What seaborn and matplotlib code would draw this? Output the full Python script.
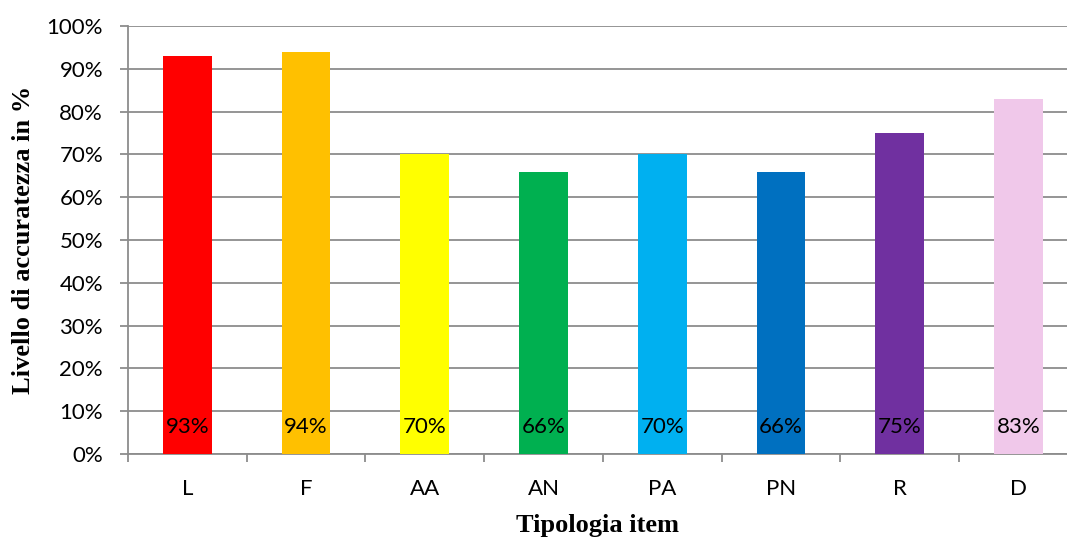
import numpy as np
import pandas as pd
import seaborn as sns
import matplotlib.pyplot as plt
from matplotlib.ticker import PercentFormatter, FixedLocator

# Data
categories = ['L', 'F', 'AA', 'AN', 'PA', 'PN', 'R', 'D']
accuracy = [0.93, 0.94, 0.70, 0.66, 0.70, 0.66, 0.75, 0.83]
bar_colors = ['#FF0000', '#FFC000', '#FFFF00', '#00B050',
              '#00B0F0', '#0070C0', '#7030A0', '#F0C8EA']

data = pd.DataFrame({'item': categories, 'acc': accuracy})

sns.set_style('white')
plt.rcParams['font.family'] = ['Lato', 'DejaVu Sans']
plt.rcParams['text.color'] = 'black'
plt.rcParams['axes.labelcolor'] = 'black'
plt.rcParams['xtick.labelcolor'] = 'black'
plt.rcParams['ytick.labelcolor'] = 'black'

fig = plt.figure(figsize=(10.67, 5.41), dpi=100)
ax = fig.add_axes([0.12, 0.1608, 0.88, 0.7911])

sns.barplot(data=data, x='item', y='acc', hue='item', palette=bar_colors,
            width=0.41, legend=False, saturation=1, linewidth=0, ax=ax, zorder=3)

# value labels at the bottom of each bar
for i, v in enumerate(accuracy):
    ax.text(i, 0.063, f"{v:.0%}", ha='center', va='center', fontsize=16, color='black', zorder=4)

ax.set_ylim(0, 1.0)
ax.set_xlim(-0.5, 7.41)
ax.yaxis.set_major_locator(FixedLocator(np.arange(0, 1.01, 0.1)))
ax.yaxis.set_major_formatter(PercentFormatter(1.0, decimals=0))
ax.grid(axis='y', color='#8c8c8c', linewidth=1.3, zorder=0)
ax.set_axisbelow(True)

ax.xaxis.set_minor_locator(FixedLocator(np.arange(-0.5, 8, 1)))
ax.tick_params(axis='x', which='major', length=0, pad=18, labelsize=16)
ax.tick_params(axis='x', which='minor', length=6, width=1.3, color='#8c8c8c', direction='out', bottom=True)
ax.tick_params(axis='y', length=6, width=1.3, color='#8c8c8c', direction='out', left=True, pad=12, labelsize=16)

for s in ['top', 'right']:
    ax.spines[s].set_visible(False)
for s in ['left', 'bottom']:
    ax.spines[s].set_color('#8c8c8c')
    ax.spines[s].set_linewidth(1.3)

ax.set_xlabel('Tipologia item', fontfamily='Liberation Serif', fontweight='bold', fontsize=19, labelpad=11)
ax.set_ylabel('Livello di accuratezza in %', fontfamily='Liberation Serif', fontweight='bold', fontsize=19, labelpad=8)

plt.savefig('out.png', dpi=100)
